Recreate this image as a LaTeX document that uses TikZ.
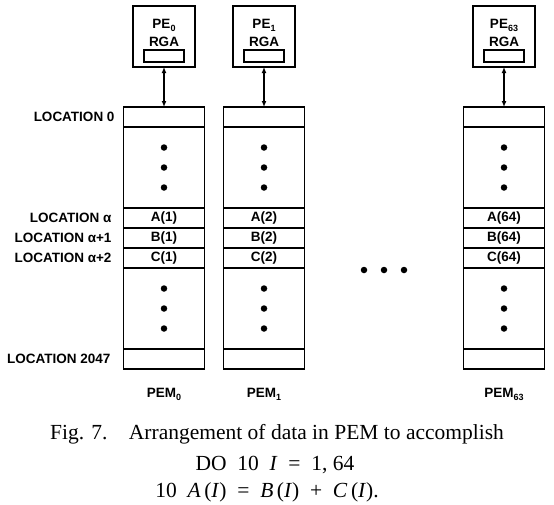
\documentclass[tikz,border=0pt]{standalone}
\usepackage{fontspec}
\setmainfont{Liberation Serif}
\setsansfont{Liberation Sans}
\usetikzlibrary{arrows.meta,positioning}
\newcommand{\ix}[1]{\raisebox{-0.45ex}{\fontsize{9}{9}\selectfont #1}}

\begin{document}
\begin{tikzpicture}[x=1pt,y=-1pt,>={Latex[length=6pt,width=5pt]},line width=1.7pt,
  every node/.style={inner sep=0pt,outer sep=0pt},
  lbl/.style={font=\sffamily\bfseries\fontsize{13.5}{13.5}\selectfont},
  cell/.style={draw,lbl,minimum width=81pt,minimum height=20pt},
  block/.style={draw,minimum width=81pt,minimum height=81pt},
  pebox/.style={draw,minimum width=62pt,minimum height=61pt},
  reg/.style={draw,line width=1.4pt,minimum width=40pt,minimum height=12pt},
  dot/.style={circle,fill,minimum size=6.5pt},
  captext/.style={font=\fontsize{21.5}{21.5}\selectfont}]
  \useasboundingbox (0,0) rectangle (554,504);

  % processing elements
  \node[pebox] (p0) at (164,36.5) {};
  \node[reg,above=5pt of p0.south] (g0) {};
  \node[lbl,above=3pt of g0] {RGA};
  \node[lbl,below=13pt of p0.north] {PE\ix{0}};

  \node[pebox] (p1) at (264,36.5) {};
  \node[reg,above=5pt of p1.south] (g1) {};
  \node[lbl,above=3pt of g1] {RGA};
  \node[lbl,below=13pt of p1.north] {PE\ix{1}};

  \node[pebox] (p63) at (504,36.5) {};
  \node[reg,above=5pt of p63.south] (g63) {};
  \node[lbl,above=3pt of g63] {RGA};
  \node[lbl,below=13pt of p63.north] {PE\ix{63}};

  % memories
  \node[cell] (t0) at (164,117) {};
  \node[block,below=0pt of t0] (u0) {};
  \node[cell,below=0pt of u0] (a0) {A(1)};
  \node[cell,below=0pt of a0] (b0) {B(1)};
  \node[cell,below=0pt of b0] (c0) {C(1)};
  \node[block,below=0pt of c0] (d0) {};
  \node[cell,below=0pt of d0] (z0) {};
  \node[lbl,below=19pt of z0] {PEM\ix{0}};

  \node[cell] (t1) at (264,117) {};
  \node[block,below=0pt of t1] (u1) {};
  \node[cell,below=0pt of u1] (a1) {A(2)};
  \node[cell,below=0pt of a1] (b1) {B(2)};
  \node[cell,below=0pt of b1] (c1) {C(2)};
  \node[block,below=0pt of c1] (d1) {};
  \node[cell,below=0pt of d1] (z1) {};
  \node[lbl,below=19pt of z1] {PEM\ix{1}};

  \node[cell] (t63) at (504,117) {};
  \node[block,below=0pt of t63] (u63) {};
  \node[cell,below=0pt of u63] (a63) {A(64)};
  \node[cell,below=0pt of a63] (b63) {B(64)};
  \node[cell,below=0pt of b63] (c63) {C(64)};
  \node[block,below=0pt of c63] (d63) {};
  \node[cell,below=0pt of d63] (z63) {};
  \node[lbl,below=19pt of z63] {PEM\ix{63}};

  % dots
  \path (u0.center) node[dot] {} ++(0,-20) node[dot] {} ++(0,40) node[dot] {};
  \path (d0.center) node[dot] {} ++(0,-20) node[dot] {} ++(0,40) node[dot] {};
  \path (u1.center) node[dot] {} ++(0,-20) node[dot] {} ++(0,40) node[dot] {};
  \path (d1.center) node[dot] {} ++(0,-20) node[dot] {} ++(0,40) node[dot] {};
  \path (u63.center) node[dot] {} ++(0,-20) node[dot] {} ++(0,40) node[dot] {};
  \path (d63.center) node[dot] {} ++(0,-20) node[dot] {} ++(0,40) node[dot] {};
  \path (364,270) node[dot] {} ++(20,0) node[dot] {} ++(20,0) node[dot] {};

  % locations
  \node[lbl,left=9pt of t0] {LOCATION 0};
  \node[lbl,left=12pt of a0] {LOCATION α};
  \node[lbl,left=12pt of b0] {LOCATION α+1};
  \node[lbl,left=12pt of c0] {LOCATION α+2};
  \node[lbl,left=13pt of z0] {LOCATION 2047};

  \draw[<->] (p0) -- (t0);
  \draw[<->] (p1) -- (t1);
  \draw[<->] (p63) -- (t63);

  % caption
  \node[captext] (cap1) at (277,434) {Fig. 7.\quad Arrangement of data in PEM to accomplish};
  \node[captext] (cap2) at (275,465) {DO\ \ 10\ \ \textit{I}\enspace=\enspace1, 64};
  \node[captext] (cap3) at (267,492) {10\ \ \textit{A}\,(\textit{I})\enspace=\enspace\textit{B}\,(\textit{I})\enspace+\enspace\textit{C}\,(\textit{I}).};
\end{tikzpicture}
\end{document}
